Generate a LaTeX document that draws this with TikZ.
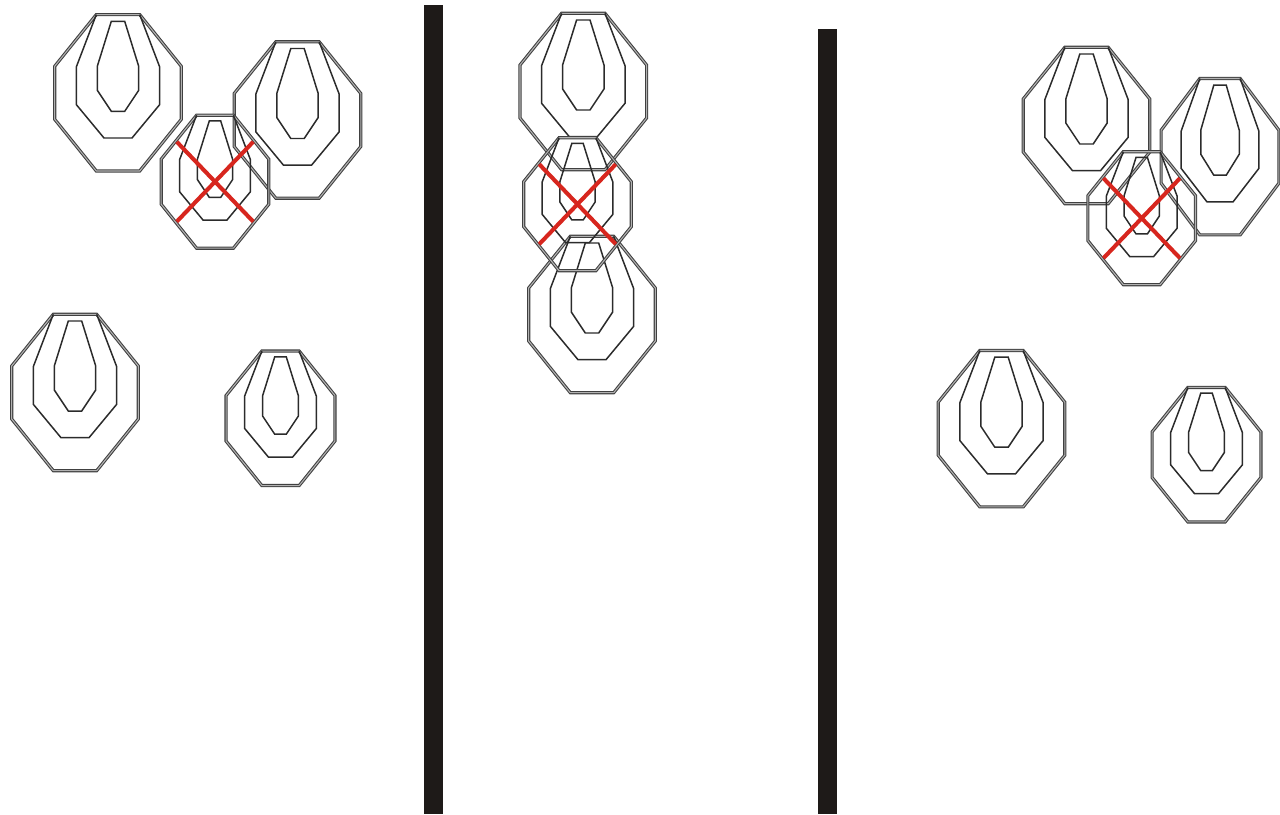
\documentclass[tikz,border=0pt]{standalone}
\usetikzlibrary{calc}
\definecolor{cbar}{HTML}{1E1A18}
\definecolor{cline}{HTML}{2B2B2B}
\definecolor{cred}{HTML}{D7261E}
% one octagon target, drawn about its centre, in pixels
\newcommand{\targetpaths}{%
  \draw[rim] (-21.7,-78.2) -- (21.7,-78.2) -- (63.3,-26.5) -- (63.3,26.5) -- (21.7,78.2)
    -- (-21.7,78.2) -- (-63.3,26.5) -- (-63.3,-26.5) -- cycle;
  \draw[zone] (-21.7,-78.2) -- (-41.7,-25.8) -- (-41.7,11.8) -- (-14,45.2) -- (14,45.2)
    -- (41.7,11.8) -- (41.7,-25.8) -- (21.7,-78.2);
  \draw[zone] (-6.7,-71.5) -- (6.7,-71.5) -- (20.7,-26.5) -- (20.7,-2.5) -- (6.7,18.5)
    -- (-6.7,18.5) -- (-20.7,-2.5) -- (-20.7,-26.5) -- cycle;
}
\tikzset{
  every picture/.style={line join=miter},
  rim/.style={draw=cline!90, double=black!30, double distance=0.6pt, line width=0.6pt},
  zone/.style={draw=cline, line width=0.85pt},
  hit/.style={draw=cred, line width=2.3pt},
  bar/.style={fill=cbar},
  pics/target/.style={code={\targetpaths}},
  % a target that is crossed out
  pics/noshoot/.style={code={
    \targetpaths
    \draw[hit] (-45,-47) -- (45,47) (45,-47) -- (-45,47);
  }},
}

\begin{document}
\begin{tikzpicture}[x=0.02cm, y=-0.02cm]
  \useasboundingbox (0,0) rectangle (1280,814);
  % walls
  \fill[bar] (424,5) rectangle (443,814);
  \fill[bar] (818,29) rectangle (837,814);
  % left bay
  \pic at (118,92.8) {target};
  \pic at (297.5,120) {target};
  \pic[scale=0.85] at (215,181.7) {noshoot};
  \pic at (75,392.5) {target};
  \pic[scale=0.86] at (280.5,418.3) {target};
  % middle bay
  \pic at (583.3,91.5) {target};
  \pic at (592,314.5) {target};
  \pic[scale=0.85] at (577.5,204.2) {noshoot};
  % right bay
  \pic at (1086.5,125.5) {target};
  \pic[xscale=0.93] at (1220,156.7) {target};
  \pic[scale=0.85] at (1141.7,218.2) {noshoot};
  \pic at (1001.5,428.7) {target};
  \pic[scale=0.86] at (1206.5,454.7) {target};
\end{tikzpicture}
\end{document}
